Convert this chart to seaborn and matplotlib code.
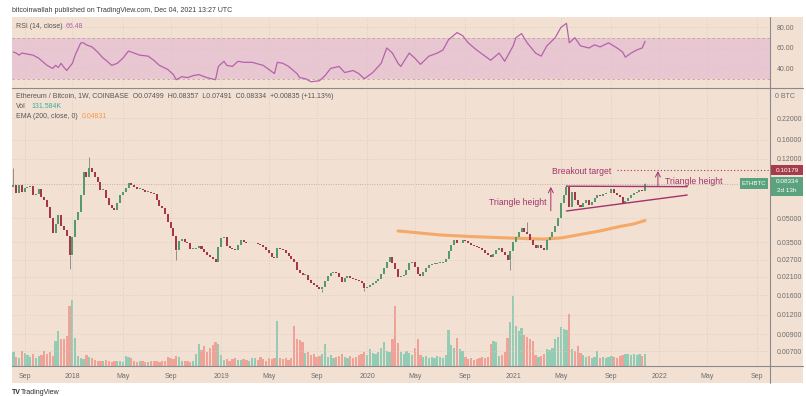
import numpy as np
import pandas as pd
import matplotlib
matplotlib.use("Agg")
import matplotlib.pyplot as plt
import matplotlib.dates as mdates
from matplotlib.patches import Rectangle
from matplotlib.lines import Line2D
from matplotlib.ticker import FixedLocator, NullLocator, FuncFormatter
import seaborn as sns

# --- CONFIGURATION ---
OUTPUT_IMAGE = "out.png"
FIG_W, FIG_H = 806, 396
FIRST_WEEK = "2017-08-07"

# weekly closes ETH/BTC (Coinbase)
CLOSES = [
    0.0817, 0.0725, 0.0817, 0.0736, 0.0781, 0.0793, 0.0805, 0.0704, 0.0715, 0.0770,
    0.0684, 0.0654, 0.0590, 0.0501, 0.0401, 0.0459, 0.0524, 0.0445, 0.0420, 0.0384,
    0.0290, 0.0378, 0.0487, 0.0548, 0.0704, 0.0990, 0.0919, 0.1050, 0.0990, 0.0919,
    0.0854, 0.0758, 0.0758, 0.0674, 0.0607, 0.0581, 0.0564, 0.0626, 0.0704, 0.0736,
    0.0781, 0.0841, 0.0817, 0.0793, 0.0770, 0.0770, 0.0758, 0.0736, 0.0736, 0.0725,
    0.0715, 0.0654, 0.0599, 0.0581, 0.0532, 0.0472, 0.0432, 0.0384, 0.0312, 0.0357,
    0.0367, 0.0351, 0.0346, 0.0317, 0.0317, 0.0322, 0.0331, 0.0317, 0.0303, 0.0290,
    0.0282, 0.0273, 0.0261, 0.0326, 0.0373, 0.0378, 0.0331, 0.0322, 0.0317, 0.0312,
    0.0336, 0.0362, 0.0351, 0.0346, 0.0346, 0.0346, 0.0346, 0.0341, 0.0336, 0.0326,
    0.0312, 0.0299, 0.0282, 0.0277, 0.0322, 0.0317, 0.0312, 0.0299, 0.0286, 0.0273,
    0.0261, 0.0232, 0.0222, 0.0216, 0.0216, 0.0200, 0.0192, 0.0186, 0.0181, 0.0175,
    0.0181, 0.0197, 0.0213, 0.0222, 0.0225, 0.0222, 0.0209, 0.0194, 0.0206, 0.0213,
    0.0206, 0.0203, 0.0200, 0.0197, 0.0192, 0.0178, 0.0181, 0.0186, 0.0192, 0.0197,
    0.0203, 0.0219, 0.0239, 0.0261, 0.0282, 0.0258, 0.0236, 0.0209, 0.0213, 0.0216,
    0.0232, 0.0258, 0.0261, 0.0243, 0.0219, 0.0213, 0.0225, 0.0239, 0.0250, 0.0254,
    0.0254, 0.0258, 0.0258, 0.0261, 0.0273, 0.0308, 0.0336, 0.0362, 0.0346, 0.0346,
    0.0362, 0.0357, 0.0346, 0.0336, 0.0331, 0.0326, 0.0322, 0.0312, 0.0299, 0.0290,
    0.0282, 0.0294, 0.0312, 0.0322, 0.0303, 0.0290, 0.0269, 0.0308, 0.0351, 0.0378,
    0.0407, 0.0432, 0.0407, 0.0396, 0.0362, 0.0336, 0.0322, 0.0336, 0.0322, 0.0312,
    0.0362, 0.0378, 0.0407, 0.0445, 0.0501, 0.0626, 0.0704, 0.0793, 0.0590, 0.0736,
    0.0654, 0.0607, 0.0590, 0.0626, 0.0654, 0.0607, 0.0635, 0.0674, 0.0704, 0.0694,
    0.0715, 0.0725, 0.0725, 0.0770, 0.0725, 0.0704, 0.0684, 0.0626, 0.0644, 0.0674,
    0.0704, 0.0725, 0.0736, 0.0758, 0.07499, 0.08334,
]
FIRST_OPEN = 0.0790

# only the wicks that stand out
WICK_HIGHS = {0: 0.1050, 27: 0.1236, 183: 0.0472, 197: 0.0817, 225: 0.08357}
WICK_LOWS = {20: 0.0236, 58: 0.0269, 110: 0.0167, 125: 0.0170, 177: 0.0232, 225: 0.07491}

# weekly volume, thousands
VOLUME_K = [
    150, 100, 90, 170, 140, 120, 100, 130, 90, 110,
    120, 160, 130, 150, 110, 280, 380, 300, 300, 330,
    660, 730, 310, 110, 90, 80, 120, 100, 90, 70,
    60, 55, 60, 70, 50, 45, 55, 60, 50, 45,
    110, 100, 90, 50, 45, 60, 55, 45, 40, 55,
    60, 50, 45, 55, 60, 100, 90, 80, 110, 95,
    60, 50, 55, 45, 50, 130, 240, 180, 220, 150,
    200, 230, 260, 240, 120, 70, 80, 60, 75, 90,
    65, 70, 80, 70, 60, 90, 85, 70, 95, 80,
    60, 90, 75, 85, 500, 90, 80, 85, 70, 90,
    440, 300, 290, 260, 140, 150, 120, 130, 100, 110,
    130, 240, 100, 120, 90, 100, 110, 130, 100, 90,
    110, 90, 100, 120, 130, 150, 120, 190, 140, 130,
    150, 200, 260, 170, 150, 300, 660, 250, 150, 130,
    160, 140, 120, 200, 300, 120, 100, 110, 90, 100,
    90, 110, 100, 90, 120, 400, 230, 200, 310, 190,
    160, 100, 80, 90, 70, 80, 90, 100, 85, 95,
    240, 270, 260, 110, 120, 150, 310, 480, 770, 440,
    380, 420, 340, 320, 300, 280, 120, 100, 110, 130,
    190, 180, 200, 300, 320, 430, 410, 400, 570, 190,
    170, 220, 140, 120, 100, 110, 90, 100, 170, 90,
    100, 90, 100, 110, 100, 90, 110, 120, 130, 130,
    120, 130, 120, 130, 110, 131.584,
]

# EMA(200) and RSI(14) sampled off the chart (week index, value)
EMA_WEEKS = [137, 145, 152, 163, 173, 182, 189, 195, 201, 209, 216, 221, 225]
EMA_VALUES = [0.0414, 0.0401, 0.0390, 0.0381, 0.0375, 0.0370, 0.0367, 0.0373,
              0.0390, 0.0414, 0.0442, 0.0459, 0.04831]

RSI_WEEKS = [0, 1, 2, 3, 5, 7, 9, 12, 14, 15, 16, 17, 18, 19, 21, 22, 24, 25, 26, 28,
             30, 32, 33, 35, 37, 39, 41, 43, 45, 48, 50, 52, 55, 57, 58, 60, 62, 64, 66, 69,
             72, 73, 75, 76, 78, 80, 82, 85, 89, 91, 93, 94, 96, 98, 101, 102, 104, 106, 109, 111,
             113, 116, 118, 121, 123, 125, 128, 131, 133, 135, 137, 138, 141, 143, 145, 148, 151, 153, 155, 158,
             160, 162, 165, 168, 170, 173, 175, 178, 179, 181, 183, 186, 188, 190, 193, 195, 197, 198, 200, 202,
             205, 207, 209, 212, 215, 217, 218, 220, 222, 224, 225]
RSI_VALUES = [56, 55, 53, 55, 54, 53, 50, 43, 40, 43, 41, 45, 41, 38, 45, 53, 65, 65, 63, 61,
              56, 50, 48, 43, 45, 50, 57, 55, 53, 52, 48, 43, 39, 34, 29, 32, 31, 33, 34, 31,
              29, 42, 47, 43, 42, 47, 46, 46, 43, 39, 35, 46, 45, 42, 35, 31, 30, 27, 28, 33,
              40, 42, 36, 38, 35, 30, 36, 45, 60, 55, 45, 42, 55, 50, 44, 52, 55, 58, 68, 75,
              72, 65, 58, 52, 48, 55, 47, 62, 70, 74, 65, 55, 52, 62, 70, 80, 84, 65, 70, 62,
              60, 63, 61, 65, 60, 56, 51, 55, 58, 60, 66.48]

# annotations drawn on the chart
TRI_UPPER_DATES = ["2021-05-17", "2022-03-14"]
TRI_UPPER_PRICES = [0.0802, 0.0797]
TRI_LOWER_DATES = ["2021-05-17", "2022-03-14"]
TRI_LOWER_PRICES = [0.0556, 0.0704]
LEFT_ARROW_DATE, LEFT_ARROW_FROM, LEFT_ARROW_TO = "2021-04-08", 0.0558, 0.0794
RIGHT_ARROW_DATE, RIGHT_ARROW_FROM, RIGHT_ARROW_TO = "2021-12-31", 0.0797, 0.1003
BREAKOUT_START, BREAKOUT_TARGET = "2021-09-20", 0.10179
LAST_PRICE = 0.08334

PRICE_TICKS = [0.22, 0.16, 0.12, 0.05, 0.035, 0.027, 0.021, 0.016, 0.012, 0.009, 0.007]
RSI_TICKS = [80, 60, 40]
TIME_TICK_MONTHS = ["2017-09-01", "2018-01-01", "2018-05-01", "2018-09-01", "2019-01-01",
                    "2019-05-01", "2019-09-01", "2020-01-01", "2020-05-01", "2020-09-01",
                    "2021-01-01", "2021-05-01", "2021-09-01", "2022-01-01", "2022-05-01",
                    "2022-09-01"]
TIME_TICK_LABELS = ["Sep", "2018", "May", "Sep", "2019", "May", "Sep", "2020", "May", "Sep",
                    "2021", "May", "Sep", "2022", "May", "Sep"]

# colours
BG = "#f2e0d3"
BAND = "#e8c7d2"
GRID = "#dcc8ba"
UP = "#54996f"
DOWN = "#a53846"
VOL_UP = "#93cbb4"
VOL_DOWN = "#efa298"
WICK = "#8f8f8f"
EMA_COLOR = "#f5a35a"
RSI_COLOR = "#b562ab"
ANNOT = "#a3336a"
AXIS_TEXT = "#6e6e6e"
LINE = "#8a8a8a"


def px(x, y):
    """pixel position -> figure fraction"""
    return x / FIG_W, 1 - y / FIG_H


def fig_rect(fig, x0, y0, x1, y1, color, z=5):
    fig.add_artist(Rectangle(px(x0, y1), (x1 - x0) / FIG_W, (y1 - y0) / FIG_H,
                             transform=fig.transFigure, color=color, lw=0, zorder=z))


def fig_hline(fig, y, x0, x1, color=LINE, lw=0.8):
    fig.add_artist(Line2D([x0 / FIG_W, x1 / FIG_W], [1 - y / FIG_H] * 2,
                          transform=fig.transFigure, color=color, lw=lw, zorder=6))


def generate_chart():
    sns.set_style("white")
    plt.rcParams['font.family'] = ['Liberation Sans', 'DejaVu Sans']

    closes = np.array(CLOSES)
    opens = np.concatenate([[FIRST_OPEN], closes[:-1]])
    dates = pd.date_range(FIRST_WEEK, periods=len(closes), freq="7D")
    x = mdates.date2num(dates.to_pydatetime())
    up = closes >= opens
    week = 7.0
    xlim = (x[0] - 0.5 * week, x[0] + 269.5 * week)

    tick_dates = [pd.offsets.Week(weekday=0).rollforward(pd.Timestamp(m)) for m in TIME_TICK_MONTHS]
    tick_x = mdates.date2num([t.to_pydatetime() for t in tick_dates])

    fig = plt.figure(figsize=(FIG_W / 100, FIG_H / 100), dpi=100)
    fig.patch.set_facecolor("white")
    fig_rect(fig, 12, 17, 803, 383, BG, z=-1)

    # --- RSI PANE ---
    ax_rsi = fig.add_axes([12 / FIG_W, 1 - 87 / FIG_H, 758 / FIG_W, 70 / FIG_H])
    ax_rsi.set_facecolor(BG)
    ax_rsi.axhspan(30, 70, color=BAND, lw=0, zorder=0)
    for lvl in (30, 70):
        ax_rsi.axhline(lvl, color="#b9a79d", lw=0.6, ls=(0, (3, 3)), zorder=1)
    sns.lineplot(x=x[RSI_WEEKS], y=RSI_VALUES, ax=ax_rsi, color=RSI_COLOR, linewidth=0.9, zorder=3)
    ax_rsi.set_xlim(xlim)
    ax_rsi.set_ylim(21.9, 90.2)
    ax_rsi.yaxis.tick_right()
    ax_rsi.set_yticks(RSI_TICKS)
    ax_rsi.set_yticklabels([f"{v:.2f}" for v in RSI_TICKS])
    ax_rsi.set_xticks(tick_x)
    ax_rsi.tick_params(axis="x", length=0, labelbottom=False)
    ax_rsi.tick_params(axis="y", length=0, pad=5, labelsize=5, labelcolor=AXIS_TEXT)
    ax_rsi.grid(True, color=GRID, ls=(0, (1, 2)), lw=0.6)
    ax_rsi.set_xlabel("")
    ax_rsi.set_ylabel("")
    for s in ax_rsi.spines.values():
        s.set_visible(False)

    # --- PRICE PANE ---
    ax = fig.add_axes([12 / FIG_W, 1 - 366 / FIG_H, 758 / FIG_W, 278 / FIG_H])
    ax_vol = ax.twinx()
    ax.set_zorder(ax_vol.get_zorder() + 1)
    ax.patch.set_visible(False)
    ax_vol.set_facecolor(BG)

    ax_vol.bar(x, VOLUME_K, width=5.6, color=np.where(up, VOL_UP, VOL_DOWN), lw=0)
    ax_vol.set_ylim(0, 3060)
    ax_vol.yaxis.set_visible(False)
    for s in ax_vol.spines.values():
        s.set_visible(False)

    ax.set_yscale("log")
    body_lo = np.minimum(opens, closes)
    body_h = np.maximum(np.abs(closes - opens), body_lo * 0.008)
    ax.bar(x, body_h, bottom=body_lo, width=5.0, color=np.where(up, UP, DOWN), lw=0, zorder=3)
    for j, hi in WICK_HIGHS.items():
        ax.vlines(x[j], max(opens[j], closes[j]), hi, color=WICK, lw=0.7, zorder=2)
    for j, lo in WICK_LOWS.items():
        ax.vlines(x[j], lo, min(opens[j], closes[j]), color=WICK, lw=0.7, zorder=2)

    sns.lineplot(x=x[EMA_WEEKS], y=EMA_VALUES, ax=ax, color=EMA_COLOR, linewidth=2.2, alpha=0.9, zorder=2)

    # last price line
    ax.plot([xlim[0], x[0] + 258.5 * week], [LAST_PRICE] * 2, color="#c4b1a3", lw=0.7, ls=(0, (1, 1.5)), zorder=1)

    # triangle + targets
    d = lambda s: mdates.date2num(pd.Timestamp(s).to_pydatetime())
    ax.plot([d(s) for s in TRI_UPPER_DATES], TRI_UPPER_PRICES, color=ANNOT, lw=1.0, zorder=4)
    ax.plot([d(s) for s in TRI_LOWER_DATES], TRI_LOWER_PRICES, color=ANNOT, lw=1.0, zorder=4)
    ax.plot([d(BREAKOUT_START), xlim[1]], [BREAKOUT_TARGET] * 2, color=ANNOT, lw=0.8,
            ls=(0, (1, 2)), zorder=4)
    arrow = dict(arrowstyle="->,head_length=0.35,head_width=0.18", color=ANNOT, lw=0.7,
                 shrinkA=0, shrinkB=0)
    ax.annotate("", xy=(d(LEFT_ARROW_DATE), LEFT_ARROW_TO), xytext=(d(LEFT_ARROW_DATE), LEFT_ARROW_FROM),
                arrowprops=arrow, zorder=4)
    ax.annotate("", xy=(d(RIGHT_ARROW_DATE), RIGHT_ARROW_TO), xytext=(d(RIGHT_ARROW_DATE), RIGHT_ARROW_FROM),
                arrowprops=arrow, zorder=4)
    ax.text(d("2021-03-29"), 0.0635, "Triangle height", color=ANNOT, fontsize=6.2, ha="right", va="center")
    ax.text(d("2021-04-12"), 0.0990, "Breakout target", color=ANNOT, fontsize=6.2, ha="left", va="center")
    ax.text(d("2022-01-17"), 0.0865, "Triangle height", color=ANNOT, fontsize=6.2, ha="left", va="center")

    ax.set_xlim(xlim)
    ax.set_ylim(0.005613, 0.3429)
    ax.yaxis.tick_right()
    ax.yaxis.set_major_locator(FixedLocator(PRICE_TICKS))
    ax.yaxis.set_major_formatter(FuncFormatter(lambda v, p: f"{v:.5f}"))
    ax.yaxis.set_minor_locator(NullLocator())
    ax.set_xticks(tick_x)
    ax.set_xticklabels(TIME_TICK_LABELS)
    ax.tick_params(axis="x", length=0, pad=5, labelsize=5, labelcolor=AXIS_TEXT)
    ax.tick_params(axis="y", which="both", length=0, pad=5, labelsize=5, labelcolor=AXIS_TEXT)
    ax.grid(True, color=GRID, ls=(0, (1, 2)), lw=0.6)
    ax.set_xlabel("")
    ax.set_ylabel("")
    for s in ax.spines.values():
        s.set_visible(False)

    # pane borders
    fig.add_artist(Line2D([770 / FIG_W] * 2, [1 - 17 / FIG_H, 1 - 383 / FIG_H],
                          transform=fig.transFigure, color=LINE, lw=0.8, zorder=6))
    fig_hline(fig, 87.5, 12, 803)
    fig_hline(fig, 366, 12, 803)

    # price labels on the axis
    fig_rect(fig, 771, 165, 803, 175, "#a63c4b")
    fig.text(*px(787, 170), "0.10179", color="white", fontsize=4.6, ha="center", va="center", zorder=7)
    fig_rect(fig, 771, 177, 803, 196, "#5ba27e")
    fig.text(*px(787, 182), "0.08334", color="white", fontsize=4.6, ha="center", va="center", zorder=7)
    fig.text(*px(787, 191), "2d 13h", color="white", fontsize=4.6, ha="center", va="center", zorder=7)
    fig_rect(fig, 740, 178, 768, 189, "#5ba27e")
    fig.text(*px(754, 183.5), "ETHBTC", color="white", fontsize=4.4, ha="center", va="center", zorder=7)
    fig.text(*px(775, 96), "0 BTC", color=AXIS_TEXT, fontsize=5, ha="left", va="center", zorder=7)

    # --- TEXT / LEGENDS ---
    fig.text(*px(12, 10), "bitcoinwallah published on TradingView.com, Dec 04, 2021 13:27 UTC",
             color="#3c3c3c", fontsize=5, va="center")
    fig.text(*px(16, 27), "RSI (14, close)", color="#555555", fontsize=5, va="center")
    fig.text(*px(66, 27), "66.48", color=RSI_COLOR, fontsize=5, va="center")
    fig.text(*px(16, 97), "Ethereum / Bitcoin, 1W, COINBASE  O0.07499  H0.08357  L0.07491  C0.08334  +0.00835 (+11.13%)",
             color="#555555", fontsize=5, va="center", zorder=7)
    fig.text(*px(16, 107), "Vol", color="#555555", fontsize=5, va="center", zorder=7)
    fig.text(*px(31, 107), "131.584K", color="#3fae94", fontsize=5, va="center", zorder=7)
    fig.text(*px(16, 117), "EMA (200, close, 0)", color="#555555", fontsize=5, va="center", zorder=7)
    fig.text(*px(82, 117), "0.04831", color="#f29a48", fontsize=5, va="center", zorder=7)
    fig.text(*px(12, 392), "TV", color="#2e2e2e", fontsize=5, fontweight="bold", va="center")
    fig.text(*px(21, 392), "TradingView", color="#2e2e2e", fontsize=5, va="center")

    fig.savefig(OUTPUT_IMAGE, dpi=100)


if __name__ == "__main__":
    assert len(CLOSES) == len(VOLUME_K)
    generate_chart()
